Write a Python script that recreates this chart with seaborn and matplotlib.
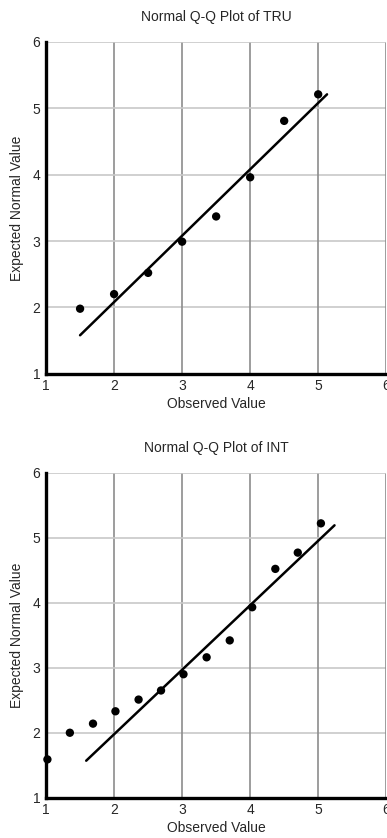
import matplotlib
matplotlib.use("Agg")
import matplotlib.pyplot as plt
import seaborn as sns
import pandas as pd

# TRU panel
tru_obs = [1.5, 2.0, 2.5, 3.0, 3.5, 4.0, 4.5, 5.0]
tru_exp = [1.98, 2.20, 2.52, 2.99, 3.37, 3.96, 4.81, 5.21]
tru_line_x = [1.5, 5.13]
tru_line_y = [1.58, 5.21]

# INT panel
int_obs = [1.02, 1.35, 1.69, 2.02, 2.36, 2.69, 3.02, 3.36, 3.70, 4.03, 4.37, 4.70, 5.04]
int_exp = [1.59, 2.00, 2.14, 2.33, 2.51, 2.65, 2.90, 3.16, 3.42, 3.93, 4.52, 4.77, 5.22]
int_line_x = [1.59, 5.24]
int_line_y = [1.57, 5.19]

ticks = [1, 2, 3, 4, 5, 6]

sns.set_style("white")
plt.rcParams['font.family'] = ['Liberation Sans', 'DejaVu Sans']

fig = plt.figure(figsize=(3.87, 8.38), dpi=100)


def qq_panel(ax, obs, exp, lx, ly, title):
    df = pd.DataFrame({"obs": obs, "exp": exp})
    line = pd.DataFrame({"x": lx, "y": ly})
    ax.set_xlim(1, 6)
    ax.set_ylim(1, 6)
    for t in ticks[1:]:
        ax.axvline(t, color="#8c8c8c", lw=1.2, zorder=0)
        ax.axhline(t, color="#c8c8c8", lw=1.2, zorder=0)
    sns.lineplot(data=line, x="x", y="y", ax=ax, color="black", lw=1.8, zorder=2)
    sns.scatterplot(data=df, x="obs", y="exp", ax=ax, color="black", s=36,
                    edgecolor="none", zorder=3, clip_on=False)
    ax.set_xticks(ticks)
    ax.set_yticks(ticks)
    ax.tick_params(axis="x", length=0, labelsize=10, pad=4)
    ax.tick_params(axis="y", length=0, labelsize=10, pad=4)
    ax.set_xlabel("Observed Value", fontsize=10, labelpad=3)
    ax.set_ylabel("Expected Normal Value", fontsize=10, labelpad=6)
    ax.set_title(title, fontsize=10, pad=15)
    for s in ["top", "right"]:
        ax.spines[s].set_visible(False)
    for s in ["left", "bottom"]:
        ax.spines[s].set_linewidth(2.4)
        ax.spines[s].set_color("black")


ax1 = fig.add_axes([0.119, 0.554, 0.879, 0.396])
qq_panel(ax1, tru_obs, tru_exp, tru_line_x, tru_line_y, "Normal Q-Q Plot of TRU")

ax2 = fig.add_axes([0.119, 0.048, 0.879, 0.388])
qq_panel(ax2, int_obs, int_exp, int_line_x, int_line_y, "Normal Q-Q Plot of INT")

fig.savefig("out.png", dpi=100)
